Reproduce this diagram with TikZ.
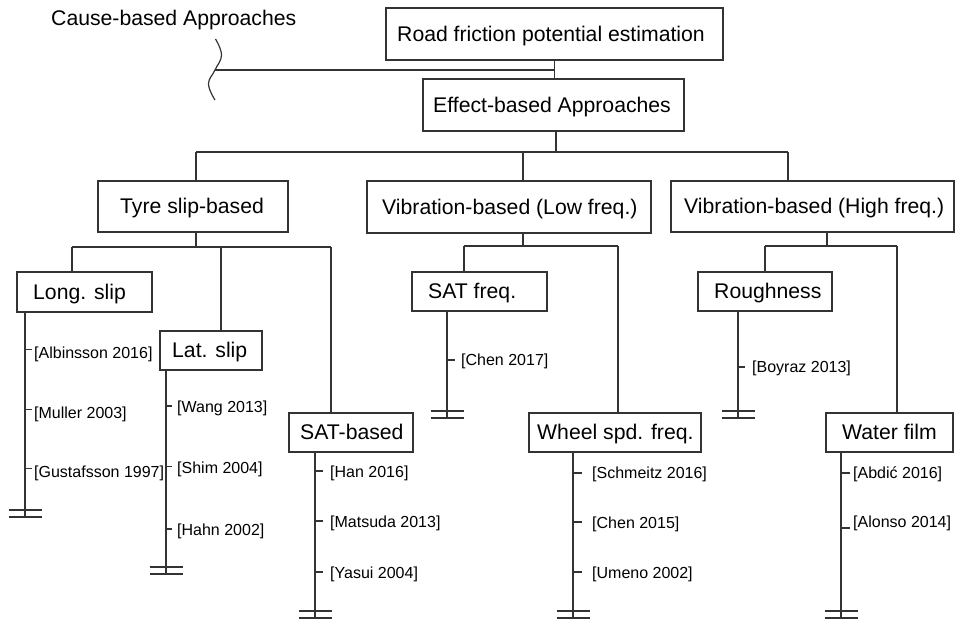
\documentclass[tikz,border=0pt]{standalone}
\usepackage{fontspec}
\setmainfont{Liberation Sans}
% box: name, x1, y1, x2, y2, text start, label
\newcommand\tbox[7]{%
  \node[boxsty, minimum width={#4-#2}, minimum height={#5-#3}] (#1) at ({(#2+#4)/2},{(#3+#5)/2}) {};
  \node[boxlbl, anchor=base west] (#1-t) at (#6,{(#3+#5)/2+7.3}) {#7};}
% reference: name, column x, tick end x, text x, text y, tick y, label
\newcommand\citeref[7]{%
  \node[reflbl, anchor=base west] (#1) at (#4,{#5+5.7}) {#7};
  \draw[conn] (#2,#6) -- (#3,#6);}
% ground mark at the foot of a column
\newcommand\groundmark[1]{%
  \draw[conn] ([xshift=-16.5pt]#1) -- ([xshift=16.5pt]#1)
              ([xshift=-16.5pt,yshift=7pt]#1) -- ([xshift=16.5pt,yshift=7pt]#1);}
\begin{document}
\begin{tikzpicture}[x=1pt,y=-1pt,
  conn/.style={draw=black!80, line width=1.2pt},
  boxsty/.style={draw=black!80, line width=1.2pt, inner sep=0pt, outer sep=0pt},
  boxlbl/.style={inner sep=0pt, text=black, font=\fontsize{21.2}{25}\selectfont},
  reflbl/.style={inner sep=0pt, text=black, font=\fontsize{16}{19}\selectfont}]
\useasboundingbox (0,0) rectangle (955,619);

% boxes
\tbox{root}{386}{8}{723}{60}{397}{Road friction potential estimation}
\tbox{effect}{423}{79}{684}{131}{433}{Effect-based Approaches}
\tbox{tyre}{98}{181}{288}{232}{120}{Tyre slip-based}
\tbox{low}{367}{181}{651}{233}{382}{Vibration-based (Low freq.)}
\tbox{high}{671}{181}{954}{232}{684}{Vibration-based (High freq.)}
\tbox{long}{17}{272}{152}{312}{33}{Long. slip}
\tbox{lat}{160}{331}{262}{370}{172}{Lat. slip}
\tbox{satb}{289}{413}{413}{452}{300}{SAT-based}
\tbox{satf}{412}{272}{547}{311}{428}{SAT freq.}
\tbox{wheel}{529}{413}{701}{452}{537}{Wheel spd. freq.}
\tbox{rough}{698}{272}{832}{311}{714}{Roughness}
\tbox{water}{826}{413}{953}{452}{842}{Water film}

% cause-based branch with break mark
\node[boxlbl, anchor=base west] (cause) at (51,25.6) {Cause-based Approaches};
\draw[conn] plot[smooth, tension=0.7] coordinates {(215.5,39) (221.5,55) (215,70) (208.5,84) (215,100)};
\coordinate (brk) at (215,70);
\draw[conn] (brk) -- (brk -| root.south);
\draw[conn] (root.south) -- (root.south |- effect.north);

% level 1 bus
\coordinate (e-eff) at (556,152);
\coordinate (e-tyre) at (196,152);
\coordinate (e-low) at (523,152);
\coordinate (e-high) at (788,152);
\draw[conn] (effect.south -| e-eff) -- (e-eff);
\draw[conn] (e-tyre) -- (e-high);
\draw[conn] (e-tyre) -- (e-tyre |- tyre.north);
\draw[conn] (e-low) -- (e-low |- low.north);
\draw[conn] (e-high) -- (e-high |- high.north);

% tyre slip bus
\coordinate (t-up) at (196,247);
\coordinate (t-long) at (72,247);
\coordinate (t-lat) at (221,247);
\coordinate (t-satb) at (331,247);
\draw[conn] (tyre.south -| t-up) -- (t-up);
\draw[conn] (t-long) -- (t-satb);
\draw[conn] (t-long) -- (t-long |- long.north);
\draw[conn] (t-lat) -- (t-lat |- lat.north);
\draw[conn] (t-satb) -- (t-satb |- satb.north);

% low frequency bus
\coordinate (l-up) at (523,246);
\coordinate (l-satf) at (464,246);
\coordinate (l-wheel) at (618,246);
\draw[conn] (low.south -| l-up) -- (l-up);
\draw[conn] (l-satf) -- (l-wheel);
\draw[conn] (l-satf) -- (l-satf |- satf.north);
\draw[conn] (l-wheel) -- (l-wheel |- wheel.north);

% high frequency bus
\coordinate (h-up) at (827,246);
\coordinate (h-rough) at (765,246);
\coordinate (h-water) at (897,246);
\draw[conn] (high.south -| h-up) -- (h-up);
\draw[conn] (h-rough) -- (h-water);
\draw[conn] (h-rough) -- (h-rough |- rough.north);
\draw[conn] (h-water) -- (h-water |- water.north);

% reference columns
\coordinate (g-long) at (25,517);
\coordinate (g-lat) at (166,574);
\coordinate (g-satb) at (315,618);
\coordinate (g-satf) at (447,418);
\coordinate (g-wheel) at (573,618);
\coordinate (g-rough) at (738,418);
\coordinate (g-water) at (841,618);
\foreach \c/\b in {long/long, lat/lat, satb/satb, satf/satf, wheel/wheel, rough/rough, water/water}{
  \draw[conn] (g-\c |- \b.south) -- (g-\c);
  \groundmark{g-\c}
}

% references
\citeref{r-alb}{25}{32}{34}{353}{349.5}{[Albinsson 2016]}
\citeref{r-mul}{25}{32}{34}{413}{409.5}{[Muller 2003]}
\citeref{r-gus}{25}{32}{34}{472}{468.5}{[Gustafsson 1997]}
\citeref{r-wan}{166}{172}{177}{407}{406}{[Wang 2013]}
\citeref{r-shi}{166}{172}{177}{468}{466.5}{[Shim 2004]}
\citeref{r-hah}{166}{172}{177}{530}{529}{[Hahn 2002]}
\citeref{r-han}{315}{323}{330}{472}{471}{[Han 2016]}
\citeref{r-mat}{315}{323}{330}{522}{521}{[Matsuda 2013]}
\citeref{r-yas}{315}{323}{330}{573}{572}{[Yasui 2004]}
\citeref{r-ch17}{447}{455}{461}{360}{360}{[Chen 2017]}
\citeref{r-sch}{573}{582}{592}{473}{473}{[Schmeitz 2016]}
\citeref{r-ch15}{573}{582}{592}{523}{522}{[Chen 2015]}
\citeref{r-ume}{573}{582}{592}{573}{572}{[Umeno 2002]}
\citeref{r-boy}{738}{745}{752}{367}{367}{[Boyraz 2013]}
\citeref{r-abd}{841}{850}{853}{473}{473}{[Abdić 2016]}
\citeref{r-alo}{841}{850}{853}{522}{528}{[Alonso 2014]}
\end{tikzpicture}
\end{document}
